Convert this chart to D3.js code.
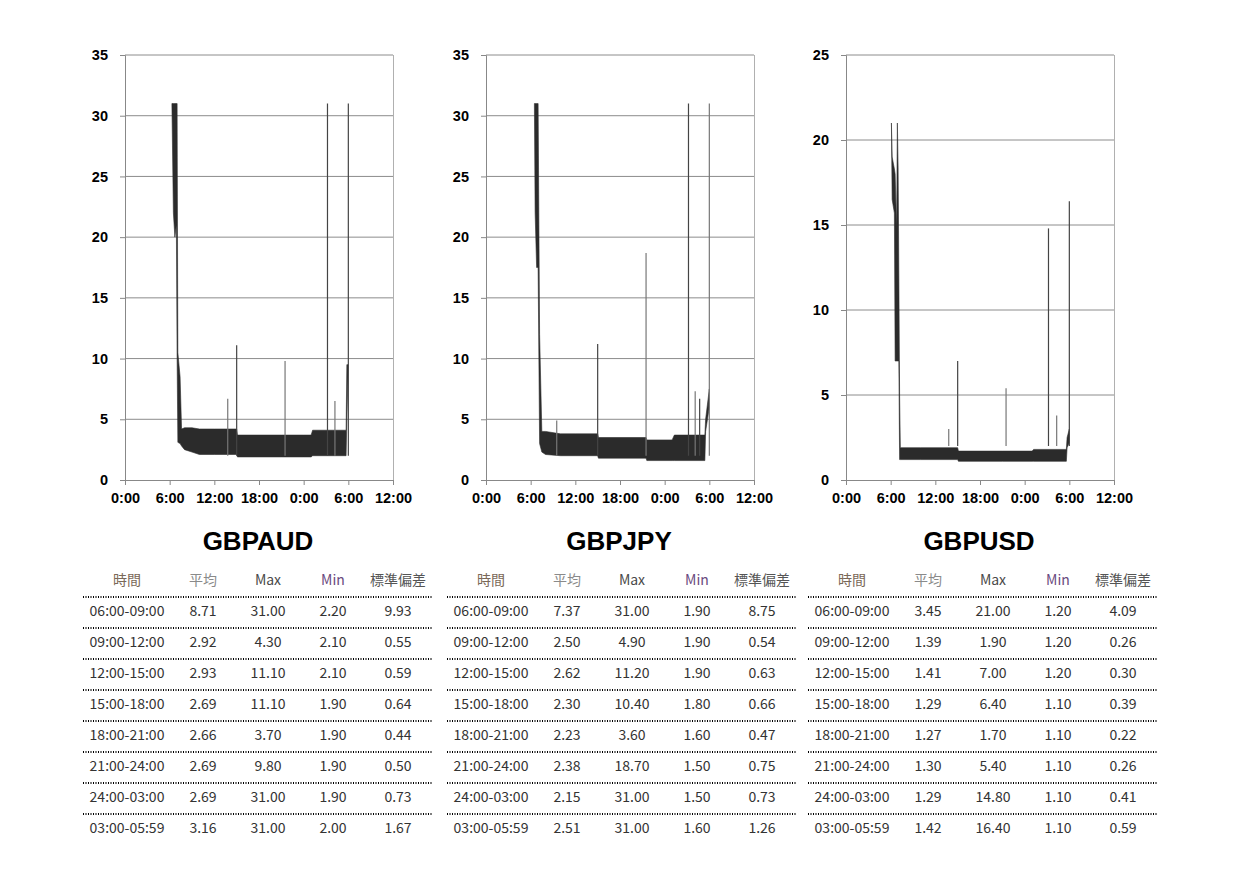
<!DOCTYPE html>
<html><head><meta charset="utf-8">
<script src="https://cdn.jsdelivr.net/npm/d3@7"></script>
<style>body{margin:0;background:#fff}</style></head>
<body><svg id="c" width="1249" height="883"></svg>
<script>
const pairs = ["GBPAUD","GBPJPY","GBPUSD"];
const yMaxes = [35,35,25];
const xTicks = [0,6,12,18,24,30,36];
const xTickLabels = ["0:00","6:00","12:00","18:00","0:00","6:00","12:00"];
// band envelope (hours, low, high)
const audT  = [6.3,6.5,6.7,6.9,7.0,7.1,7.4,7.6,8,9,10,12,14,15,15.1,18,21,24,25,25.2,27,29,29.7,29.8,30];
const audLo = [31,22,20,21,10,3.1,3,2.8,2.5,2.3,2.1,2.1,2.1,2.1,1.9,1.9,1.9,1.9,1.9,2.0,2.0,2.0,2.0,5,9.5];
const audHi = [31,31,31,31,31,10.5,8.5,4.2,4.3,4.3,4.2,4.2,4.2,4.2,3.7,3.7,3.7,3.7,3.7,4.1,4.1,4.1,4.1,9.5,9.5];
const audSpT = [13.8,15.0,21.5,27.2,28.2,30.0];
const audSpV = [6.7,11.1,9.8,31,6.5,31];
const jpyT  = [6.5,6.6,6.8,6.9,7.0,7.2,7.5,8,10,12,15,15.1,18,21.5,21.6,25,25.3,29.4,29.5,30];
const jpyLo = [31,22,17.5,17.5,17.5,3,2.3,2.1,2.0,2.0,2.0,1.8,1.8,1.8,1.6,1.6,1.6,1.6,4,6];
const jpyHi = [31,31,31,31,31,12,4.0,4.0,3.8,3.8,3.8,3.5,3.5,3.5,3.3,3.3,3.7,3.7,5,7.5];
const jpySpT = [9.5,15.0,21.5,27.2,28.1,28.7,30.0];
const jpySpV = [4.9,11.2,18.7,31,7.3,6.7,31];
const usdT  = [6.1,6.2,6.5,6.6,6.8,6.9,7.0,7.1,7.2,7.3,10,15,15.1,18,21,25,25.2,29.6,29.7,30];
const usdLo = [21,16.5,15.7,7,7,7,7,7,1.2,1.2,1.2,1.2,1.1,1.1,1.1,1.1,1.1,1.1,1.9,2.2];
const usdHi = [21,19,18.3,18,14.8,21,18.4,12,5,1.9,1.9,1.9,1.7,1.7,1.7,1.7,1.8,1.8,2.5,3.0];
const usdSpT = [13.8,15.0,21.5,27.2,28.3,30.0];
const usdSpV = [3.0,7.0,5.4,14.8,3.8,16.4];
const bands = [[audT,audLo,audHi],[jpyT,jpyLo,jpyHi],[usdT,usdLo,usdHi]];
const spikes = [[audSpT,audSpV],[jpySpT,jpySpV],[usdSpT,usdSpV]];

const header = ["時間","平均","Max","Min","標準偏差"];
const headerColors = ["#7a6858","#8a8a8a","#4a4a4a","#6a4a80","#555"];
const periods = ["06:00-09:00","09:00-12:00","12:00-15:00","15:00-18:00","18:00-21:00","21:00-24:00","24:00-03:00","03:00-05:59"];
const audStats = [["8.71","31.00","2.20","9.93"],["2.92","4.30","2.10","0.55"],["2.93","11.10","2.10","0.59"],["2.69","11.10","1.90","0.64"],["2.66","3.70","1.90","0.44"],["2.69","9.80","1.90","0.50"],["2.69","31.00","1.90","0.73"],["3.16","31.00","2.00","1.67"]];
const jpyStats = [["7.37","31.00","1.90","8.75"],["2.50","4.90","1.90","0.54"],["2.62","11.20","1.90","0.63"],["2.30","10.40","1.80","0.66"],["2.23","3.60","1.60","0.47"],["2.38","18.70","1.50","0.75"],["2.15","31.00","1.50","0.73"],["2.51","31.00","1.60","1.26"]];
const usdStats = [["3.45","21.00","1.20","4.09"],["1.39","1.90","1.20","0.26"],["1.41","7.00","1.20","0.30"],["1.29","6.40","1.10","0.39"],["1.27","1.70","1.10","0.22"],["1.30","5.40","1.10","0.26"],["1.29","14.80","1.10","0.41"],["1.42","16.40","1.10","0.59"]];
const stats = [audStats,jpyStats,usdStats];

const svg = d3.select("#c");
const plotX = [125,486,846], plotW = 268, plotTop = 55, plotBot = 480;
const tableX = [83,447,808], tableW = 349;
const colOff = [44,120,185,250,315];

pairs.forEach((p,i)=>{
  const g = svg.append("g");
  const x = d3.scaleLinear().domain([0,36]).range([plotX[i],plotX[i]+plotW]);
  const y = d3.scaleLinear().domain([0,yMaxes[i]]).range([plotBot,plotTop]);
  const yt = d3.range(0,yMaxes[i]+1,5);
  g.selectAll(".gl").data(yt.filter(v=>v>0)).join("line")
    .attr("x1",x(0)).attr("x2",x(36)).attr("y1",d=>y(d)).attr("y2",d=>y(d))
    .attr("stroke","#8c8c8c").attr("stroke-width",1);
  g.append("line").attr("x1",x(36)+0.5).attr("x2",x(36)+0.5).attr("y1",y(yMaxes[i])).attr("y2",y(0)).attr("stroke","#b0b0b0");
  const ya = g.append("g").attr("transform",`translate(${x(0)},0)`)
    .call(d3.axisLeft(y).tickValues(yt).tickSize(5).tickPadding(12));
  const xa = g.append("g").attr("transform",`translate(0,${y(0)})`)
    .call(d3.axisBottom(x).tickValues(xTicks).tickSize(5).tickPadding(8).tickFormat((d,k)=>xTickLabels[k]));
  [ya,xa].forEach(a=>{a.select(".domain").attr("stroke","#888");a.selectAll(".tick line").attr("stroke","#888");
    a.selectAll("text").attr("font-family","Liberation Sans, Arial").attr("font-weight","bold").attr("font-size",14.5).attr("fill","#000");});
  const [T,L,H] = bands[i];
  const pts = T.map((t,k)=>({t,lo:L[k],hi:H[k]}));
  g.append("path").datum(pts).attr("d",d3.area().x(d=>x(d.t)).y0(d=>y(d.lo)).y1(d=>y(d.hi)))
    .attr("fill","#2b2b2b").attr("stroke","#2b2b2b").attr("stroke-width",0.6);
  const [ST,SV] = spikes[i];
  g.selectAll(".sp").data(ST.map((t,k)=>({t,v:SV[k]}))).join("line")
    .attr("x1",d=>x(d.t)).attr("x2",d=>x(d.t)).attr("y1",d=>y(d.v)).attr("y2",y(2))
    .attr("stroke",(d,k)=>k%2?"#444":"#777").attr("stroke-width",1.2);
  g.append("text").attr("x",plotX[i]+133).attr("y",550).attr("text-anchor","middle")
    .attr("font-family","Liberation Sans, Arial").attr("font-weight","bold").attr("font-size",26).text(p);
  header.forEach((h,k)=>g.append("text").attr("x",tableX[i]+colOff[k]).attr("y",585).attr("text-anchor","middle")
    .attr("font-family","Noto Sans CJK JP").attr("font-size",14).attr("fill",headerColors[k]).text(h));
  periods.forEach((per,r)=>{
    const ly = 597 + r*31;
    g.append("line").attr("x1",tableX[i]).attr("x2",tableX[i]+tableW).attr("y1",ly).attr("y2",ly)
      .attr("stroke","#000").attr("stroke-width",2).attr("stroke-dasharray","1,1.5");
    const row = [per].concat(stats[i][r]);
    row.forEach((v,k)=>g.append("text").attr("x",tableX[i]+colOff[k]).attr("y",ly+19).attr("text-anchor","middle")
      .attr("font-family","Noto Sans CJK JP").attr("font-size",14).attr("fill","#333").text(v));
  });
});
</script></body></html>
